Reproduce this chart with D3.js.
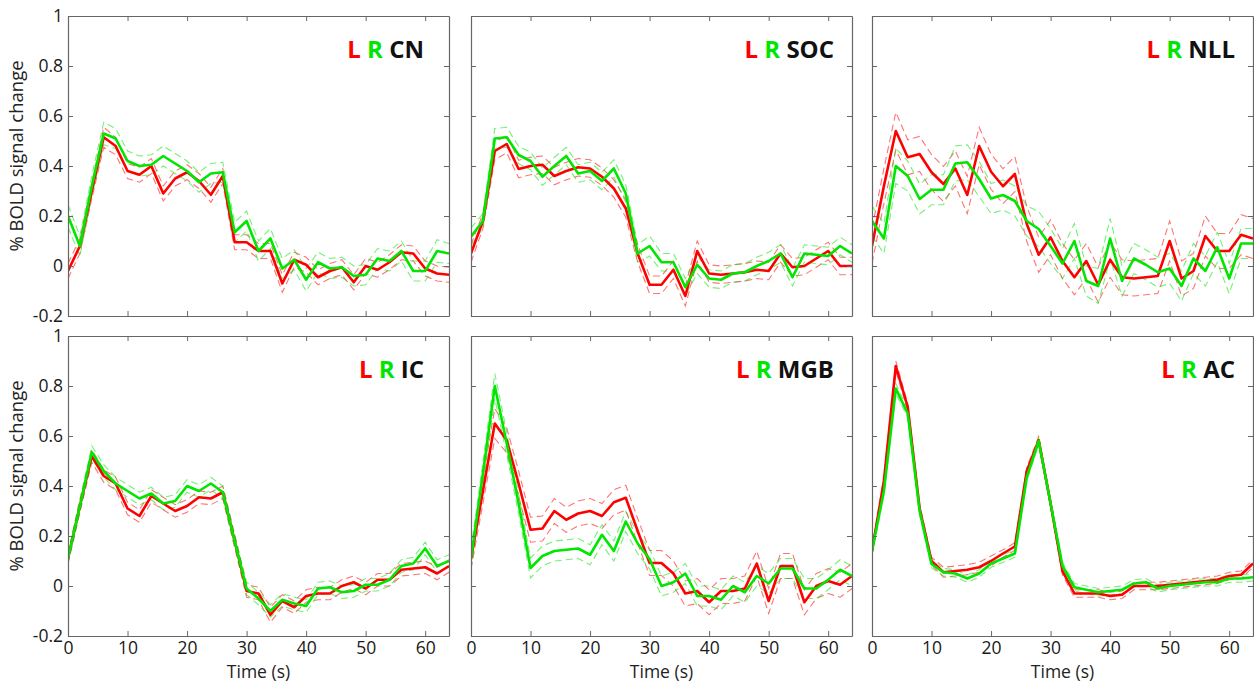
<!DOCTYPE html>
<html>
<head>
<meta charset="utf-8">
<script src="https://cdn.jsdelivr.net/npm/d3@7"></script>
<style>
  body { margin: 0; background: #fff; }
  svg { display: block; font-family: "Open Sans", sans-serif; }
</style>
</head>
<body>
<svg width="1254" height="686"></svg>
<script>
// time points (s)
var time = [0,2,4,6,8,10,12,14,16,18,20,22,24,26,28,30,32,34,36,38,40,42,44,46,48,50,52,54,56,58,60,62,64];
var xTicks = [0,10,20,30,40,50,60];
var yTicks = [-0.2,0,0.2,0.4,0.6,0.8,1];
var regions = ["CN","SOC","NLL","IC","MGB","AC"];

// mean % BOLD change, left (red) / right (green)
var cnL = [-0.02,0.08,0.30,0.515,0.48,0.38,0.365,0.40,0.29,0.35,0.375,0.34,0.285,0.36,0.095,0.095,0.06,0.06,-0.07,0.025,0.005,-0.045,-0.02,-0.005,-0.065,0.0,-0.015,0.015,0.055,0.05,-0.01,-0.03,-0.035];
var cnR = [0.2,0.08,0.32,0.53,0.51,0.42,0.40,0.405,0.44,0.41,0.38,0.335,0.37,0.375,0.135,0.18,0.06,0.11,-0.01,0.025,-0.055,0.015,-0.01,-0.005,-0.04,-0.035,0.03,0.02,0.06,-0.02,-0.02,0.06,0.05];
var socL = [0.05,0.18,0.46,0.488,0.388,0.40,0.405,0.36,0.38,0.395,0.39,0.357,0.31,0.23,0.05,-0.075,-0.075,-0.015,-0.12,0.06,-0.03,-0.035,-0.03,-0.025,-0.015,-0.02,0.05,-0.005,0.0,0.03,0.06,0.0,0.0];
var socR = [0.117,0.18,0.51,0.515,0.444,0.42,0.357,0.40,0.44,0.37,0.38,0.34,0.39,0.29,0.05,0.08,0.015,0.015,-0.085,0.005,-0.05,-0.055,-0.03,-0.025,0.0,0.02,0.05,-0.045,0.05,0.045,0.04,0.08,0.05];
var nllL = [0.08,0.32,0.54,0.435,0.448,0.375,0.328,0.39,0.284,0.48,0.377,0.319,0.368,0.168,0.045,0.115,0.02,-0.045,0.02,-0.075,0.025,-0.045,-0.05,-0.045,-0.04,0.10,-0.05,-0.02,0.12,0.06,0.06,0.125,0.11];
var nllR = [0.18,0.11,0.40,0.36,0.268,0.305,0.305,0.41,0.415,0.348,0.27,0.284,0.26,0.18,0.148,0.08,0.01,0.10,-0.06,-0.08,0.11,-0.06,0.03,0.005,-0.025,-0.01,-0.08,0.03,-0.02,0.075,-0.05,0.09,0.09];
var icL = [0.11,0.32,0.52,0.44,0.41,0.31,0.28,0.36,0.33,0.30,0.32,0.355,0.35,0.375,0.18,-0.02,-0.03,-0.115,-0.06,-0.085,-0.04,-0.03,-0.03,0.0,0.015,-0.01,0.025,0.025,0.065,0.07,0.075,0.05,0.08];
var icR = [0.11,0.32,0.535,0.46,0.41,0.38,0.35,0.37,0.33,0.34,0.40,0.38,0.41,0.375,0.18,-0.01,-0.05,-0.10,-0.055,-0.07,-0.08,-0.01,-0.005,-0.025,-0.02,0.005,0.005,0.025,0.08,0.09,0.15,0.08,0.10];
var mgbL = [0.108,0.38,0.65,0.583,0.41,0.225,0.23,0.30,0.265,0.29,0.30,0.28,0.335,0.353,0.22,0.092,0.092,0.05,-0.03,-0.02,-0.065,-0.02,-0.02,-0.01,0.09,-0.06,0.08,0.08,-0.065,0.0,0.02,0.005,0.04];
var mgbR = [0.11,0.45,0.80,0.57,0.33,0.072,0.12,0.14,0.145,0.15,0.125,0.205,0.14,0.258,0.17,0.108,0.0,0.015,0.05,-0.04,-0.04,-0.055,0.0,-0.025,0.04,0.01,0.07,0.07,-0.01,-0.01,0.025,0.065,0.04];
var acL = [0.14,0.42,0.88,0.716,0.31,0.10,0.055,0.06,0.065,0.075,0.10,0.13,0.158,0.46,0.583,0.33,0.059,-0.03,-0.03,-0.03,-0.04,-0.035,0.0,0.0,0.0,0.005,0.01,0.015,0.02,0.025,0.04,0.045,0.09];
var acR = [0.14,0.38,0.79,0.69,0.30,0.088,0.055,0.05,0.03,0.05,0.09,0.11,0.13,0.435,0.58,0.33,0.08,-0.005,-0.015,-0.025,-0.02,-0.015,0.01,0.015,-0.01,0.0,0.005,0.01,0.015,0.015,0.03,0.03,0.035];

// standard errors (dashed lines = mean +/- se)
var cnLse = [0.03,0.03,0.03,0.04,0.035,0.03,0.03,0.03,0.03,0.03,0.03,0.03,0.03,0.03,0.03,0.03,0.03,0.03,0.035,0.03,0.03,0.03,0.03,0.03,0.03,0.03,0.03,0.03,0.03,0.03,0.03,0.03,0.03];
var cnRse = [0.045,0.04,0.04,0.045,0.04,0.04,0.04,0.04,0.04,0.04,0.04,0.04,0.04,0.04,0.04,0.04,0.04,0.04,0.04,0.04,0.045,0.04,0.04,0.04,0.04,0.04,0.04,0.04,0.04,0.04,0.04,0.045,0.04];
var socLse = [0.035,0.03,0.035,0.035,0.035,0.035,0.035,0.035,0.035,0.035,0.035,0.035,0.035,0.035,0.035,0.035,0.035,0.035,0.04,0.04,0.035,0.035,0.035,0.035,0.035,0.035,0.035,0.035,0.035,0.035,0.035,0.035,0.035];
var socRse = [0.035,0.03,0.04,0.04,0.035,0.035,0.035,0.035,0.035,0.035,0.035,0.035,0.035,0.035,0.035,0.04,0.035,0.035,0.035,0.035,0.035,0.035,0.035,0.035,0.035,0.035,0.035,0.035,0.035,0.035,0.035,0.035,0.035];
var nllLse = [0.07,0.07,0.075,0.07,0.07,0.07,0.07,0.07,0.075,0.075,0.07,0.07,0.07,0.07,0.07,0.07,0.07,0.07,0.07,0.07,0.07,0.07,0.07,0.07,0.07,0.08,0.07,0.07,0.08,0.07,0.07,0.08,0.08];
var nllRse = [0.06,0.06,0.07,0.06,0.06,0.06,0.06,0.07,0.07,0.07,0.06,0.06,0.06,0.06,0.07,0.07,0.06,0.07,0.06,0.07,0.08,0.06,0.06,0.06,0.06,0.06,0.06,0.06,0.06,0.06,0.06,0.06,0.06];
var icLse = [0.02,0.025,0.025,0.025,0.025,0.025,0.025,0.025,0.025,0.025,0.025,0.025,0.025,0.025,0.025,0.025,0.025,0.03,0.025,0.025,0.025,0.025,0.025,0.025,0.025,0.025,0.025,0.025,0.025,0.025,0.025,0.025,0.025];
var icRse = [0.02,0.025,0.025,0.025,0.025,0.025,0.025,0.025,0.025,0.025,0.025,0.025,0.025,0.025,0.025,0.025,0.025,0.025,0.025,0.025,0.025,0.025,0.025,0.025,0.025,0.025,0.025,0.025,0.025,0.025,0.025,0.025,0.025];
var mgbLse = [0.04,0.05,0.06,0.05,0.05,0.05,0.05,0.05,0.05,0.05,0.05,0.05,0.05,0.05,0.05,0.05,0.05,0.05,0.05,0.05,0.05,0.05,0.05,0.05,0.05,0.05,0.05,0.05,0.05,0.05,0.05,0.05,0.05];
var mgbRse = [0.04,0.045,0.05,0.045,0.04,0.04,0.04,0.04,0.04,0.04,0.04,0.04,0.04,0.04,0.04,0.04,0.04,0.04,0.04,0.04,0.04,0.04,0.04,0.04,0.04,0.04,0.04,0.04,0.04,0.04,0.04,0.04,0.04];
var acLse = [0.015,0.015,0.02,0.015,0.015,0.015,0.02,0.02,0.02,0.02,0.02,0.015,0.015,0.015,0.015,0.015,0.015,0.015,0.015,0.015,0.015,0.015,0.015,0.015,0.015,0.015,0.015,0.015,0.015,0.015,0.015,0.015,0.015];
var acRse = [0.015,0.015,0.02,0.015,0.015,0.015,0.015,0.015,0.015,0.015,0.015,0.015,0.015,0.015,0.015,0.015,0.015,0.015,0.015,0.015,0.015,0.015,0.015,0.015,0.015,0.015,0.015,0.015,0.015,0.015,0.015,0.015,0.015];

var panels = [
  {name: regions[0], L: cnL, R: cnR, Lse: cnLse, Rse: cnRse},
  {name: regions[1], L: socL, R: socR, Lse: socLse, Rse: socRse},
  {name: regions[2], L: nllL, R: nllR, Lse: nllLse, Rse: nllRse},
  {name: regions[3], L: icL, R: icR, Lse: icLse, Rse: icRse},
  {name: regions[4], L: mgbL, R: mgbR, Lse: mgbLse, Rse: mgbRse},
  {name: regions[5], L: acL, R: acR, Lse: acLse, Rse: acRse}
];

var red = "#ff0000", green = "#00e600";

var svg = d3.select("svg");
var colX = [68, 471, 872], rowY = [16, 336];
var pw = 381, ph = 300;
var titleRight = [25, 18, 18];

panels.forEach(function(p, i) {
  var col = i % 3, row = Math.floor(i / 3);
  var x0 = colX[col], y0 = rowY[row];
  var x = d3.scaleLinear().domain([0, 64]).range([x0, x0 + pw]);
  var y = d3.scaleLinear().domain([-0.2, 1]).range([y0 + ph, y0]);
  var g = svg.append("g");

  var clipId = "clip" + i;
  g.append("clipPath").attr("id", clipId)
    .append("rect").attr("x", x0).attr("y", y0).attr("width", pw).attr("height", ph);

  var plot = g.append("g").attr("clip-path", "url(#" + clipId + ")");

  function lineOf(vals, se, sign) {
    return d3.line()
      .x(function(d, k) { return x(time[k]); })
      .y(function(d, k) { return y(vals[k] + sign * (se ? se[k] : 0)); })(vals);
  }

  [[p.L, p.Lse, red], [p.R, p.Rse, green]].forEach(function(s) {
    [-1, 1].forEach(function(sign) {
      plot.append("path")
        .attr("d", lineOf(s[0], s[1], sign))
        .attr("fill", "none")
        .attr("stroke", s[2])
        .attr("stroke-opacity", 0.55)
        .attr("stroke-width", 1.1)
        .attr("stroke-dasharray", "7,4");
    });
  });
  [[p.L, red], [p.R, green]].forEach(function(s) {
    plot.append("path")
      .attr("d", lineOf(s[0], null, 0))
      .attr("fill", "none")
      .attr("stroke", s[1])
      .attr("stroke-width", 2.6)
      .attr("stroke-linejoin", "round");
  });

  // axes, ticks inside on all four sides
  var fmt = function(d) { return String(d); };
  var left = g.append("g").attr("transform", "translate(" + x0 + ",0)")
    .call(d3.axisLeft(y).tickValues(yTicks).tickSizeInner(-5).tickSizeOuter(0).tickPadding(5)
      .tickFormat(col === 0 ? fmt : function() { return ""; }));
  var right = g.append("g").attr("transform", "translate(" + (x0 + pw) + ",0)")
    .call(d3.axisRight(y).tickValues(yTicks).tickSizeInner(-5).tickSizeOuter(0).tickFormat(""));
  var bottom = g.append("g").attr("transform", "translate(0," + (y0 + ph) + ")")
    .call(d3.axisBottom(x).tickValues(xTicks).tickSizeInner(-5).tickSizeOuter(0).tickPadding(6)
      .tickFormat(row === 1 ? fmt : function() { return ""; }));
  var top = g.append("g").attr("transform", "translate(0," + y0 + ")")
    .call(d3.axisTop(x).tickValues(xTicks).tickSizeInner(-5).tickSizeOuter(0).tickFormat(""));

  [left, right, bottom, top].forEach(function(a) {
    a.select(".domain").attr("stroke", "#666").attr("stroke-width", 1.2);
    a.selectAll(".tick line").attr("stroke", "#666");
    a.selectAll(".tick text").attr("fill", "#1a1a1a").style("font-size", "17.5px")
      .style("font-family", "'Open Sans', sans-serif");
  });

  // panel label
  var t = g.append("text")
    .attr("x", x0 + pw - titleRight[col])
    .attr("y", y0 + 42)
    .attr("text-anchor", "end")
    .style("font-size", "24px")
    .style("font-weight", "bold");
  t.append("tspan").attr("fill", red).text("L");
  t.append("tspan").attr("fill", green).text(" R");
  t.append("tspan").attr("fill", "#111").text(" " + p.name);

  if (col === 0) {
    g.append("text")
      .attr("transform", "translate(23," + (y0 + ph / 2 - 10) + ") rotate(-90)")
      .attr("text-anchor", "middle")
      .attr("fill", "#222")
      .style("font-size", "18.5px")
      .text("% BOLD signal change");
  }
  if (row === 1) {
    g.append("text")
      .attr("x", x0 + pw / 2)
      .attr("y", 678)
      .attr("text-anchor", "middle")
      .attr("fill", "#222")
      .style("font-size", "17.5px")
      .text("Time (s)");
  }
});
</script>
</body>
</html>
